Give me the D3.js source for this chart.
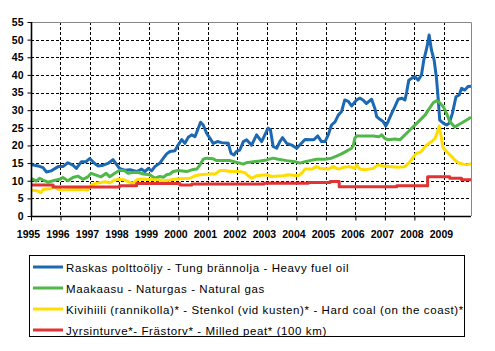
<!DOCTYPE html>
<html><head><meta charset="utf-8">
<script src="https://cdn.jsdelivr.net/npm/d3@7"></script>
<style>body{margin:0;background:#fff}svg{display:block}</style>
</head><body>
<svg id="c" width="495" height="351"></svg>
<script>
const years = [1995,1996,1997,1998,1999,2000,2001,2002,2003,2004,2005,2006,2007,2008,2009];
const yTicks = [0,5,10,15,20,25,30,35,40,45,50,55];
const xEnd = 2009.92;
const seriesNames = [
 "Raskas polttoöljy - Tung brännolja - Heavy fuel oil",
 "Maakaasu - Naturgas - Natural gas",
 "Kivihiili (rannikolla)* - Stenkol (vid kusten)* - Hard coal (on the coast)*",
 "Jyrsinturve*- Frästorv* - Milled peat* (100 km)"
];
const colors = ["#1c68b2","#50b848","#ffdd00","#e03333"];
const heavyFuelOil = [[1995.00,14.6],[1995.24,14.2],[1995.41,13.7],[1995.52,12.5],[1995.69,12.8],[1995.92,14.0],[1996.08,14.0],[1996.25,15.1],[1996.42,14.4],[1996.54,13.5],[1996.71,15.4],[1996.87,15.4],[1996.99,16.3],[1997.16,14.9],[1997.27,14.2],[1997.45,14.4],[1997.61,14.9],[1997.78,16.0],[1998.00,13.5],[1998.18,13.0],[1998.36,13.1],[1998.58,12.6],[1998.75,13.3],[1998.86,12.6],[1998.98,13.5],[1999.09,12.8],[1999.20,14.0],[1999.37,15.0],[1999.49,16.4],[1999.60,17.6],[1999.71,18.3],[1999.88,18.5],[1999.99,20.1],[2000.11,21.7],[2000.22,20.6],[2000.33,22.3],[2000.45,23.0],[2000.56,22.5],[2000.65,24.4],[2000.75,26.6],[2000.84,25.8],[2000.96,23.4],[2001.07,22.0],[2001.18,20.6],[2001.32,21.1],[2001.46,20.8],[2001.69,20.6],[2001.78,17.8],[2001.88,17.3],[2001.97,18.3],[2002.08,18.7],[2002.20,21.1],[2002.31,21.6],[2002.48,20.1],[2002.65,23.0],[2002.82,21.1],[2002.93,23.0],[2003.04,24.9],[2003.12,24.4],[2003.21,19.7],[2003.33,19.2],[2003.44,21.1],[2003.53,22.2],[2003.67,20.6],[2003.84,20.1],[2004.01,19.2],[2004.29,21.7],[2004.59,21.6],[2004.72,22.7],[2004.85,21.1],[2004.97,21.1],[2005.08,23.0],[2005.19,25.8],[2005.31,26.7],[2005.42,28.6],[2005.53,29.6],[2005.64,32.9],[2005.76,32.5],[2005.87,31.2],[2006.04,32.9],[2006.15,33.4],[2006.26,32.9],[2006.37,31.9],[2006.55,33.1],[2006.66,30.5],[2006.72,28.2],[2006.83,27.4],[2006.94,26.8],[2007.03,25.5],[2007.11,26.8],[2007.23,29.1],[2007.34,31.0],[2007.45,33.1],[2007.57,33.4],[2007.68,32.9],[2007.74,35.2],[2007.81,38.5],[2007.90,39.0],[2008.02,39.5],[2008.13,38.5],[2008.24,40.0],[2008.32,44.2],[2008.43,48.0],[2008.50,51.3],[2008.58,47.0],[2008.67,44.2],[2008.75,39.0],[2008.81,32.9],[2008.86,27.2],[2008.98,26.3],[2009.09,25.8],[2009.18,26.3],[2009.29,29.1],[2009.41,33.8],[2009.52,34.3],[2009.60,36.2],[2009.71,35.7],[2009.82,36.7],[2009.92,36.8]];
const naturalGas = [[1995.00,10.7],[1995.07,10.4],[1995.18,9.9],[1995.29,10.7],[1995.41,10.2],[1995.58,9.6],[1995.75,10.0],[1995.97,10.4],[1996.08,10.9],[1996.25,10.0],[1996.42,10.9],[1996.59,11.3],[1996.76,10.4],[1996.93,11.1],[1997.04,12.1],[1997.21,11.6],[1997.38,11.1],[1997.55,12.1],[1997.67,11.1],[1997.84,12.1],[1998.01,13.0],[1998.18,12.8],[1998.29,12.1],[1998.45,12.3],[1998.63,12.4],[1998.81,11.9],[1999.03,11.7],[1999.20,10.7],[1999.37,11.2],[1999.49,11.0],[1999.60,11.7],[1999.71,11.9],[1999.82,12.6],[1999.99,12.9],[2000.28,12.6],[2000.45,13.1],[2000.62,13.3],[2000.73,14.5],[2000.84,16.1],[2000.96,16.4],[2001.18,16.2],[2001.29,15.7],[2001.75,15.7],[2001.92,15.3],[2002.08,15.0],[2002.20,14.7],[2002.31,15.1],[2002.54,15.4],[2002.76,15.6],[2002.99,15.9],[2003.21,16.4],[2003.38,16.1],[2003.67,15.7],[2003.95,15.4],[2004.12,15.0],[2004.29,15.4],[2004.46,15.7],[2004.68,16.1],[2004.97,16.1],[2005.19,16.4],[2005.36,17.0],[2005.53,17.6],[2005.70,18.4],[2005.87,19.2],[2005.93,20.0],[2005.98,22.0],[2006.04,22.7],[2006.60,22.7],[2006.81,22.5],[2006.89,23.0],[2007.00,22.0],[2007.11,21.6],[2007.34,21.8],[2007.51,21.6],[2007.62,22.5],[2007.79,23.9],[2007.96,25.3],[2008.19,27.2],[2008.36,28.6],[2008.47,30.0],[2008.64,32.1],[2008.75,32.7],[2008.86,32.1],[2008.98,31.0],[2009.09,29.1],[2009.20,26.8],[2009.37,25.2],[2009.48,25.8],[2009.63,26.5],[2009.77,27.2],[2009.92,28.0]];
const hardCoal = [[1995.00,7.4],[1995.24,7.1],[1995.33,6.6],[1995.41,7.5],[1995.69,7.8],[1995.80,8.3],[1995.92,7.6],[1996.03,7.4],[1996.50,7.5],[1996.93,7.4],[1997.04,8.8],[1997.16,9.2],[1997.33,9.4],[1997.50,9.7],[1997.67,9.4],[1997.84,10.2],[1998.01,10.4],[1998.18,10.2],[1998.36,9.5],[1998.47,9.3],[1998.58,10.2],[1998.69,10.5],[1999.37,10.2],[1999.49,9.9],[1999.94,10.5],[2000.39,10.7],[2000.56,11.4],[2000.73,11.7],[2001.07,11.9],[2001.24,11.9],[2001.41,12.9],[2001.58,12.9],[2001.75,12.6],[2002.08,12.6],[2002.25,12.3],[2002.37,11.4],[2002.48,10.7],[2002.65,11.4],[2002.99,11.7],[2003.16,11.2],[2003.55,11.4],[2003.72,11.7],[2004.06,11.4],[2004.18,12.1],[2004.29,13.3],[2004.52,13.3],[2004.68,14.0],[2004.80,13.5],[2005.08,13.3],[2005.25,14.0],[2005.42,13.3],[2005.59,13.8],[2005.81,14.0],[2005.98,13.5],[2006.04,14.5],[2006.15,13.3],[2006.32,13.1],[2006.60,13.5],[2006.77,14.5],[2006.94,14.2],[2007.45,13.8],[2007.68,14.0],[2007.79,14.9],[2007.90,15.9],[2007.98,16.9],[2008.07,17.8],[2008.19,18.0],[2008.28,18.7],[2008.36,19.7],[2008.47,20.4],[2008.58,21.1],[2008.70,22.0],[2008.77,23.5],[2008.84,25.5],[2008.90,23.0],[2008.96,19.7],[2009.03,18.7],[2009.15,17.8],[2009.26,16.9],[2009.37,15.9],[2009.48,15.1],[2009.60,14.8],[2009.77,14.5],[2009.92,14.8]];
const milledPeat = [[1995.00,8.8],[1995.75,8.2],[1998.00,8.6],[1998.58,9.2],[2000.05,8.8],[2000.45,9.1],[2002.90,9.3],[2004.40,9.5],[2005.14,9.8],[2005.45,8.3],[2007.40,8.6],[2008.45,11.1],[2009.20,10.7],[2009.60,10.3],[2009.92,10.3]];

const svg = d3.select("#c");
const L = 31, R = 471, T = 22, B = 216;
const x = d3.scaleLinear().domain([years[0], xEnd]).range([L, R]);
const y = d3.scaleLinear().domain([0, 55]).range([B, T]);

// grid
const g = svg.append("g");
g.selectAll(".hg").data(yTicks.filter(d => d > 0 && d < 55)).join("line")
  .attr("x1", L).attr("x2", R).attr("y1", d => Math.round(y(d)) + 0.5).attr("y2", d => Math.round(y(d)) + 0.5)
  .attr("stroke", "#000").attr("stroke-dasharray", "3,2").attr("stroke-width", 1);
g.selectAll(".vg").data(years.slice(1)).join("line")
  .attr("x1", d => Math.round(x(d)) + 0.5).attr("x2", d => Math.round(x(d)) + 0.5).attr("y1", T).attr("y2", B)
  .attr("stroke", "#000").attr("stroke-dasharray", "3,2").attr("stroke-width", 1);
// border top/right grey
svg.append("path").attr("d", `M${L},${T+0.5}H${R+0.5}V${B}`).attr("fill", "none").attr("stroke", "#888").attr("stroke-width", 1);

// series
const line = d3.line().x(d => x(d[0])).y(d => y(d[1]));
const stepLine = d3.line().x(d => x(d[0])).y(d => y(d[1])).curve(d3.curveStepAfter);
const data = [heavyFuelOil, naturalGas, hardCoal, milledPeat];
data.forEach((s, i) => {
  svg.append("path").attr("d", i === 3 ? stepLine(s) : line(s))
    .attr("fill", "none").attr("stroke", colors[i]).attr("stroke-width", 3)
    .attr("stroke-linejoin", "round").attr("stroke-linecap", "butt");
});

// axes
const yAxis = d3.axisLeft(y).tickValues(yTicks).tickSize(4).tickFormat(d3.format("d"));
const ya = svg.append("g").attr("transform", `translate(${L+0.5},0)`).call(yAxis);
const xAxis = d3.axisBottom(x).tickValues(years).tickSize(4).tickFormat(d => d);
const xa = svg.append("g").attr("transform", `translate(0,${B+0.5})`).call(xAxis);
[ya, xa].forEach(a => {
  a.select(".domain").attr("stroke", "#000").attr("stroke-width", 1.6);
  a.selectAll(".tick line").attr("stroke", "#000");
  a.selectAll("text").attr("fill", "#000").attr("font-family", "Arial, 'Liberation Sans', sans-serif")
    .attr("font-size", 10.5).attr("font-weight", "bold");
});
ya.select(".domain").attr("d", `M0,${T}V${B}`);
xa.select(".domain").attr("d", `M${L},0H${R}`);
ya.selectAll("text").attr("x", -8);
xa.selectAll("text").attr("y", 14).attr("dx", -3);

// legend
const lg = svg.append("g");
lg.append("rect").attr("x", 29.5).attr("y", 255.5).attr("width", 435).attr("height", 81)
  .attr("fill", "#fff").attr("stroke", "#000").attr("stroke-width", 1);
seriesNames.forEach((n, i) => {
  const cy = 267 + i * 21;
  lg.append("line").attr("x1", 33).attr("x2", 63).attr("y1", cy).attr("y2", cy)
    .attr("stroke", colors[i]).attr("stroke-width", 3);
  lg.append("text").attr("x", 66).attr("y", cy + 4.5).text(n)
    .attr("font-family", "Arial, 'Liberation Sans', sans-serif").attr("font-size", 11.5)
    .attr("letter-spacing", 0.6).attr("fill", "#000");
});
</script>
</body></html>
